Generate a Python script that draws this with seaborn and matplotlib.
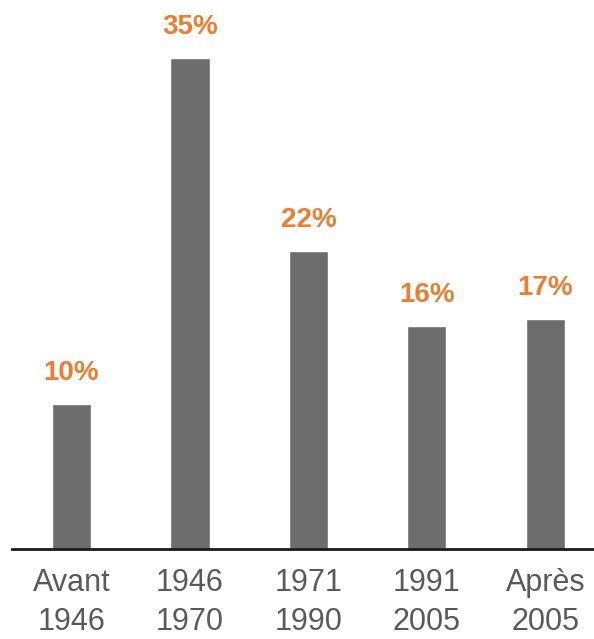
import matplotlib
matplotlib.use("Agg")
import matplotlib.pyplot as plt
import seaborn as sns
import pandas as pd

categories = ["Avant\n1946", "1946\n1970", "1971\n1990", "1991\n2005", "Après\n2005"]
values = [10.3, 35.0, 21.2, 15.9, 16.4]
labels = ["10%", "35%", "22%", "16%", "17%"]

sns.set_theme(style="white")
plt.rcParams['font.family'] = ['Liberation Sans Narrow', 'Liberation Sans', 'DejaVu Sans']

df = pd.DataFrame({"cat": categories, "val": values})

fig = plt.figure(figsize=(5.94, 6.39), dpi=100)
ax = fig.add_axes([12/594, 1 - 549/639, 1 - 12/594, 549/639])
sns.barplot(data=df, x="cat", y="val", color="#6d6d6d", saturation=1, width=0.33, ax=ax)

for i, (v, lab) in enumerate(zip(values, labels)):
    ax.text(i, v + 2.2, lab, ha="center", va="center", color="#ED7D31",
            fontsize=20, fontweight="bold", family=['Liberation Sans', 'DejaVu Sans'])

ax.set_xlim(-0.502, 4.41)
ax.set_ylim(0, 39.1)
ax.set_xlabel("")
ax.set_ylabel("")
ax.set_yticks([])
for s in ["top", "right", "left"]:
    ax.spines[s].set_visible(False)
ax.spines["bottom"].set_color("#1a1a1a")
ax.spines["bottom"].set_linewidth(2)
ax.tick_params(axis="x", length=0, pad=14, labelsize=22, labelcolor="#595959")
for t in ax.get_xticklabels():
    t.set_linespacing(1.38)

fig.savefig("out.png", dpi=100)
